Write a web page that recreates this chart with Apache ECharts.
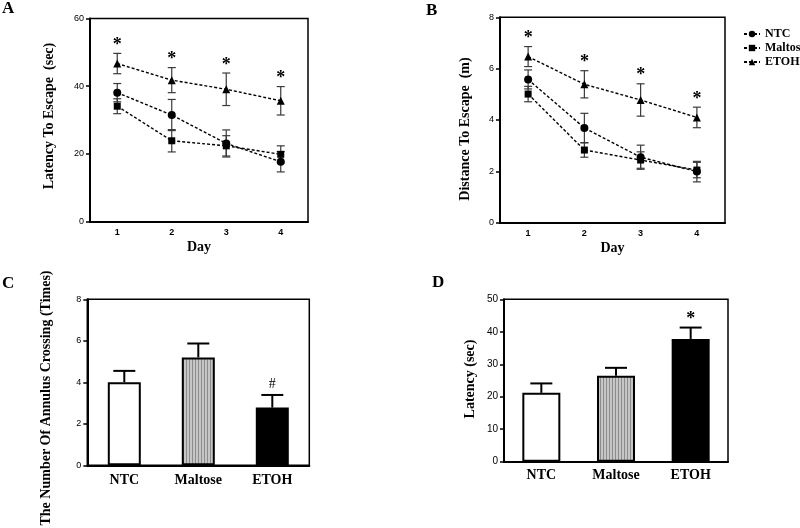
<!DOCTYPE html>
<html><head><meta charset="utf-8">
<script src="https://cdn.jsdelivr.net/npm/echarts@6/dist/echarts.min.js"></script>
<style>html,body{margin:0;padding:0;background:#fff}#c{width:800px;height:528px}</style>
</head><body><div id="c"></div>
<script>
// ---------- data ----------
const days = ['1', '2', '3', '4'];
const groups = ['NTC', 'Maltose', 'ETOH'];

// Panel A: latency to escape (sec)
const latNTC = [38.1, 31.5, 23.1, 17.7];
const latNTCErr = [2.7, 4.6, 4.0, 3.0];
const latMal = [34.1, 23.9, 22.4, 19.9];
const latMalErr = [2.2, 3.3, 3.0, 2.5];
const latETOH = [46.7, 41.8, 39.1, 35.7];
const latETOHErr = [3.0, 3.7, 4.8, 4.2];
const latSig = ['*', '*', '*', '*'];

// Panel B: distance to escape (m)
const distNTC = [5.58, 3.69, 2.55, 1.99];
const distNTCErr = [0.37, 0.57, 0.47, 0.40];
const distMal = [5.01, 2.83, 2.44, 2.05];
const distMalErr = [0.30, 0.28, 0.32, 0.30];
const distETOH = [6.47, 5.39, 4.78, 4.10];
const distETOHErr = [0.39, 0.53, 0.63, 0.40];
const distSig = ['*', '*', '*', '*'];

// Panel C: number of annulus crossings
const crossing = [4.0, 5.2, 2.78];
const crossingErr = [0.55, 0.67, 0.61];
const crossingSig = ['', '', '#'];

// Panel D: latency (sec)
const latency = [21.2, 26.5, 37.8];
const latencyErr = [2.9, 2.4, 3.5];
const latencySig = ['', '', '*'];

// ---------- styles ----------
const SERIF = '"Liberation Serif","Times New Roman",serif';
const SANS = '"Liberation Sans",Arial,sans-serif';
const symbols = { NTC: 'circle', Maltose: 'rect', ETOH: 'triangle' };
const symbolSizes = { NTC: 8, Maltose: 7, ETOH: 8 };

const cv = document.createElement('canvas');
cv.width = 3; cv.height = 4;
const cx = cv.getContext('2d');
cx.fillStyle = '#c6c6c6'; cx.fillRect(0, 0, 3, 4);
cx.fillStyle = '#8c8c8c'; cx.fillRect(0, 0, 1, 4);
const stripe = { image: cv, repeat: 'repeat' };
const barFills = ['#ffffff', stripe, '#000000'];

function lineSeries(name, vals, gi) {
  return {
    type: 'line', name, xAxisIndex: gi, yAxisIndex: gi, data: vals,
    symbol: symbols[name], symbolSize: symbolSizes[name],
    itemStyle: { color: '#000' },
    lineStyle: { color: '#000', width: 1.4, type: [3, 2] },
    z: 3, animation: false
  };
}

function errLineRender(params, api) {
  const i = api.value(0), m = api.value(1), e = api.value(2);
  const t = api.coord([i, m + e]), b = api.coord([i, m - e]);
  const x = t[0], h = 4;
  const st = { stroke: '#3a3a3a', lineWidth: 1.2 };
  return { type: 'group', children: [
    { type: 'line', shape: { x1: x, y1: t[1], x2: x, y2: b[1] }, style: st },
    { type: 'line', shape: { x1: x - h, y1: t[1], x2: x + h, y2: t[1] }, style: st },
    { type: 'line', shape: { x1: x - h, y1: b[1], x2: x + h, y2: b[1] }, style: st }
  ]};
}

function errSeries(gi, lists) {
  const data = [];
  lists.forEach(([m, e]) => m.forEach((v, i) => data.push([i, v, e[i]])));
  return { type: 'custom', xAxisIndex: gi, yAxisIndex: gi, data, encode: { x: 0, y: 1 },
    renderItem: errLineRender, z: 2, silent: true, animation: false };
}

function barErrSeries(gi, means, errs, halfCap) {
  const data = means.map((v, i) => [i, v, errs[i]]);
  return { type: 'custom', xAxisIndex: gi, yAxisIndex: gi, data, encode: { x: 0, y: 1 },
    z: 1, silent: true, animation: false,
    renderItem: (p, api) => {
      const i = api.value(0), m = api.value(1), e = api.value(2);
      const t = api.coord([i, m + e]), b = api.coord([i, m]);
      const st = { stroke: '#000', lineWidth: 2 };
      return { type: 'group', children: [
        { type: 'line', shape: { x1: t[0], y1: t[1], x2: t[0], y2: b[1] }, style: st },
        { type: 'line', shape: { x1: t[0] - halfCap, y1: t[1], x2: t[0] + halfCap, y2: t[1] }, style: st }
      ]};
    } };
}

function markSeries(gi, means, errs, sig, offset, size, weight) {
  const pts = [], txt = [];
  sig.forEach((s, i) => { if (s) { pts.push([i, means[i] + errs[i]]); txt.push(s); } });
  return { type: 'custom', xAxisIndex: gi, yAxisIndex: gi, data: pts, encode: { x: 0, y: 1 },
    z: 4, silent: true, animation: false,
    renderItem: (p, api) => {
      const c = api.coord([api.value(0), api.value(1)]);
      return { type: 'text', x: c[0], y: c[1] - offset,
        style: { text: txt[p.dataIndex], fontFamily: SERIF, fontWeight: weight, fontSize: size,
          fill: '#000', align: 'center', verticalAlign: 'middle' } };
    } };
}

function barSeries(gi, vals, width) {
  return { type: 'bar', xAxisIndex: gi, yAxisIndex: gi, barWidth: width,
    data: vals.map((v, i) => ({ value: v, itemStyle: { color: barFills[i] } })),
    itemStyle: { borderColor: '#000', borderWidth: 2 }, z: 2, animation: false };
}

const axisLine = { show: true, onZero: false, lineStyle: { color: '#000', width: 2 } };
function lineXAxis(gi) {
  return { type: 'category', gridIndex: gi, data: days, boundaryGap: true,
    axisLine, axisTick: { alignWithLabel: true, length: 4, lineStyle: { color: '#000', width: 1.5 } },
    axisLabel: { fontFamily: SANS, fontSize: 9, fontWeight: 'bold', color: '#000', margin: 6 },
    name: 'Day', nameLocation: 'middle', nameGap: 19,
    nameTextStyle: { fontFamily: SERIF, fontWeight: 'bold', fontSize: 14, color: '#000' } };
}
function barXAxis(gi, margin) {
  return { type: 'category', gridIndex: gi, data: groups, boundaryGap: true,
    axisLine, axisTick: { show: false },
    axisLabel: { fontFamily: SERIF, fontSize: 14, fontWeight: 'bold', color: '#000', margin } };
}
function yAxis(gi, max, interval, fs) {
  return { type: 'value', gridIndex: gi, min: 0, max, interval, splitLine: { show: false },
    axisLine, axisTick: { show: true, length: 4, lineStyle: { color: '#000', width: 1.5 } },
    axisLabel: { fontFamily: SANS, fontSize: fs, color: '#000', margin: 6 } };
}

const gridBase = { show: true, borderColor: '#000', borderWidth: 1.5, backgroundColor: 'transparent', containLabel: false };

function vText(x, y, text) {
  return { type: 'text', x, y, rotation: Math.PI / 2,
    style: { text, fontFamily: SERIF, fontWeight: 'bold', fontSize: 14, fill: '#000', align: 'center', verticalAlign: 'middle' } };
}
function panelLetter(x, y, text) {
  return { type: 'text', x, y, style: { text, fontFamily: SERIF, fontWeight: 'bold', fontSize: 17, fill: '#000', align: 'left', verticalAlign: 'middle' } };
}

const chart = echarts.init(document.getElementById('c'), null, { renderer: 'canvas' });
chart.setOption({
  animation: false,
  backgroundColor: '#fff',
  grid: [
    Object.assign({ left: 90, top: 18.5, width: 218, height: 203.2 }, gridBase),
    Object.assign({ left: 500, top: 17.3, width: 225, height: 205.4 }, gridBase),
    Object.assign({ left: 87.3, top: 299.3, width: 222, height: 166 }, gridBase),
    Object.assign({ left: 504, top: 299.3, width: 224, height: 162.4 }, gridBase)
  ],
  xAxis: [lineXAxis(0), lineXAxis(1), barXAxis(2, 8), barXAxis(3, 7)],
  yAxis: [yAxis(0, 60, 20, 9), yAxis(1, 8, 2, 9), yAxis(2, 8, 2, 9), yAxis(3, 50, 10, 10)],
  legend: {
    orient: 'vertical', left: 738, top: 23, itemWidth: 16, itemHeight: 8, itemGap: 2,
    data: groups,
    textStyle: { fontFamily: SERIF, fontWeight: 'bold', fontSize: 12, color: '#000' }
  },
  graphic: [
    panelLetter(2, 9, 'A'), panelLetter(426, 11, 'B'),
    panelLetter(2, 283.5, 'C'), panelLetter(432, 282.5, 'D'),
    vText(49, 116, 'Latency To Escape  (sec)'),
    vText(465, 129, 'Distance To Escape  (m)'),
    vText(46, 398, 'The Number Of Annulus Crossing (Times)'),
    vText(470, 379, 'Latency (sec)')
  ],
  series: [
    errSeries(0, [[latNTC, latNTCErr], [latMal, latMalErr], [latETOH, latETOHErr]]),
    lineSeries('NTC', latNTC, 0), lineSeries('Maltose', latMal, 0), lineSeries('ETOH', latETOH, 0),
    markSeries(0, latETOH, latETOHErr, latSig, 8, 18, 'bold'),
    errSeries(1, [[distNTC, distNTCErr], [distMal, distMalErr], [distETOH, distETOHErr]]),
    lineSeries('NTC', distNTC, 1), lineSeries('Maltose', distMal, 1), lineSeries('ETOH', distETOH, 1),
    markSeries(1, distETOH, distETOHErr, distSig, 8, 18, 'bold'),
    barErrSeries(2, crossing, crossingErr, 11),
    barSeries(2, crossing, 33),
    markSeries(2, crossing, crossingErr, crossingSig, 11, 14, 'normal'),
    barErrSeries(3, latency, latencyErr, 11),
    barSeries(3, latency, 38),
    markSeries(3, latency, latencyErr, latencySig, 8, 18, 'bold')
  ]
});
</script></body></html>
